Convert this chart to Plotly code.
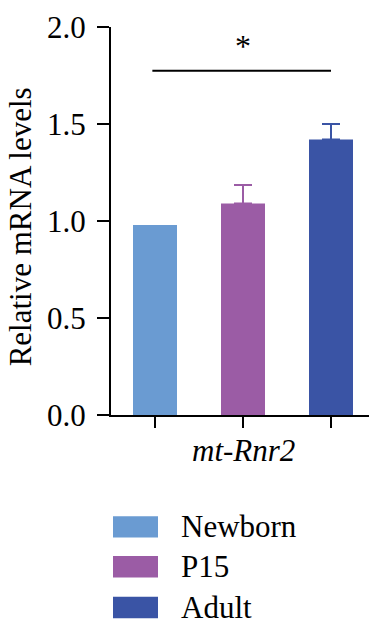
import plotly.graph_objects as go

groups = ["Newborn", "P15", "Adult"]
values = [0.98, 1.09, 1.42]
errors = [0.0, 0.095, 0.08]
colors = ["#6a9bd2", "#9b5ca5", "#3a54a5"]
gene_label = "mt-Rnr2"
y_ticks = [0.0, 0.5, 1.0, 1.5, 2.0]
y_tick_text = ["0.0", "0.5", "1.0", "1.5", "2.0"]
sig_pair = (0, 2)
sig_level = 1.775
sig_text = "*"

FONT = "Liberation Serif, Tinos, Times New Roman, DejaVu Serif, serif"
OFF = 8  # page body margin
W, H = 377 - OFF, 636 - OFF
L, T = 111 - OFF, 16 - OFF
pw, ph = 264, 399
R = W - L - pw
B = H - T - ph


def px_x(px):
    return (px - OFF - L) / pw


def px_y(py):
    return (T + ph - (py - OFF)) / ph


fig = go.Figure()
for i, (g, v, e, c) in enumerate(zip(groups, values, errors, colors)):
    fig.add_trace(go.Bar(
        x=[i], y=[v], name=g, width=0.5,
        marker=dict(color=c, line=dict(width=0)),
        error_y=dict(type="data", symmetric=False, array=[e], arrayminus=[0],
                     color=c, thickness=2, width=9, visible=e > 0),
        showlegend=False,
    ))

fig.add_shape(type="line", xref="x", yref="y", x0=sig_pair[0] - 0.03, x1=sig_pair[1],
              y0=sig_level, y1=sig_level, line=dict(color="black", width=2))
fig.add_annotation(x=(sig_pair[0] + sig_pair[1]) / 2, y=sig_level, xref="x", yref="y",
                   text=sig_text, showarrow=False, yanchor="bottom", yshift=5,
                   font=dict(family=FONT, size=32, color="black"))

fig.add_annotation(x=1, xref="x", y=px_y(452), yref="paper", text=f"<i>{gene_label}</i>",
                   showarrow=False, yanchor="middle", xanchor="center",
                   font=dict(family=FONT, size=31, color="black"))

fig.add_annotation(x=px_x(20), xref="paper", y=px_y(222), yref="paper",
                   text="Relative mRNA levels", textangle=-90, showarrow=False,
                   xanchor="center", yanchor="middle",
                   font=dict(family=FONT, size=31, color="black"))

row_centers = [530, 571, 613]
for g, c, yc in zip(groups, colors, row_centers):
    fig.add_shape(type="rect", xref="paper", yref="paper",
                  x0=px_x(113), x1=px_x(158), y0=px_y(yc + 11), y1=px_y(yc - 11),
                  fillcolor=c, line=dict(width=0))
    fig.add_annotation(x=px_x(179), xref="paper", y=px_y(yc), yref="paper",
                       text=g, showarrow=False, xanchor="left", yanchor="middle",
                       font=dict(family=FONT, size=31, color="black"))

fig.update_layout(
    width=W, height=H,
    margin=dict(l=L, r=R, t=T, b=B),
    paper_bgcolor="white", plot_bgcolor="white",
    font=dict(family=FONT, size=31, color="black"),
)
fig.update_xaxes(range=[-0.5, 2.5], tickvals=[0, 1, 2], ticktext=["", "", ""],
                 ticks="outside", ticklen=11, tickwidth=2, tickcolor="black",
                 showline=True, linecolor="black", linewidth=2, showgrid=False,
                 zeroline=False, fixedrange=True)
fig.update_yaxes(range=[0, 2], tickvals=y_ticks, ticktext=y_tick_text,
                 ticks="outside", ticklen=12, tickwidth=2, tickcolor="black",
                 showline=True, linecolor="black", linewidth=2, showgrid=False,
                 zeroline=False, tickfont=dict(family=FONT, size=31),
                 ticklabelstandoff=5, ticklabeloverflow="allow", fixedrange=True)

fig.write_html("out.html")
